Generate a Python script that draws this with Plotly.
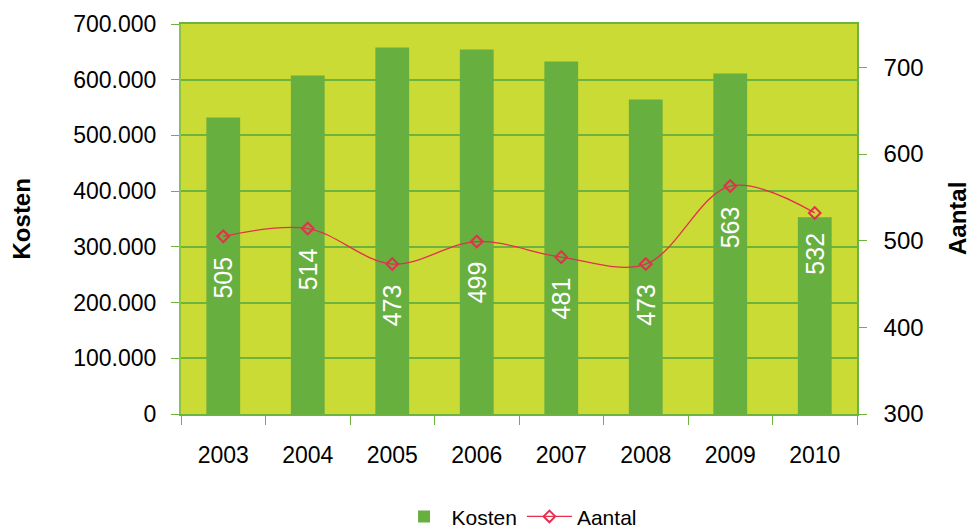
import plotly.graph_objects as go

years = ["2003", "2004", "2005", "2006", "2007", "2008", "2009", "2010"]
kosten = [532000, 607500, 657700, 654100, 632600, 564500, 611100, 353000]
aantal = [505, 514, 473, 499, 481, 473, 563, 532]
left_ticks = [0, 100000, 200000, 300000, 400000, 500000, 600000, 700000]
right_ticks = [300, 400, 500, 600, 700]

BAR = "#67AF3F"
BG = "#CBDB35"
GRID = "#6DB33F"
LINE = "#E2304D"
FONT = "Liberation Sans, Arial, sans-serif"

fig = go.Figure()
fig.add_trace(go.Bar(
    x=years, y=kosten, name="Kosten", marker=dict(color=BAR, line=dict(width=0)),
    yaxis="y", hoverinfo="skip",
))
fig.add_trace(go.Scatter(
    x=years, y=aantal, name="Aantal", yaxis="y2", mode="lines+markers",
    line=dict(color=LINE, width=1.3, shape="spline", smoothing=1),
    marker=dict(symbol="diamond-open", size=9, color=LINE, line=dict(width=2, color=LINE)),
))

for i, v in enumerate(aantal):
    fig.add_annotation(
        x=i, y=v, xref="x", yref="y2", text=str(v), showarrow=False,
        textangle=-90, yshift=-41, font=dict(color="white", size=25, family=FONT),
    )

fig.add_annotation(text="<b>Kosten</b>", xref="paper", yref="paper", x=-0.236, y=0.5,
                   xanchor="center", yanchor="middle", textangle=-90, showarrow=False,
                   font=dict(size=24, color="black", family=FONT))
fig.add_annotation(text="<b>Aantal</b>", xref="paper", yref="paper", x=1.148, y=0.5,
                   xanchor="center", yanchor="middle", textangle=-90, showarrow=False,
                   font=dict(size=24, color="black", family=FONT))

fig.update_layout(
    width=972, height=530,
    margin=dict(l=181, r=115, t=24, b=116, autoexpand=False),
    paper_bgcolor="white", plot_bgcolor=BG,
    separators=",.",
    font=dict(family=FONT, color="black", size=24),
    bargap=0.6,
    showlegend=True,
    legend=dict(orientation="h", x=0.534, xanchor="center", y=0.025, yanchor="middle",
                yref="container", xref="container",
                font=dict(size=21, family=FONT), bgcolor="rgba(0,0,0,0)",
                itemwidth=45, tracegroupgap=0),
    xaxis=dict(
        type="category", categoryorder="array", categoryarray=years,
        range=[-0.5, len(years) - 0.5], tickson="boundaries", ticks="outside", ticklen=9,
        tickcolor=GRID, showline=True, linecolor=GRID, linewidth=1.5, mirror=True,
        showgrid=False, tickangle=0, automargin=False,
        tickfont=dict(size=23, family=FONT),
        ticklabelstandoff=20,
    ),
    yaxis=dict(
        range=[0, 700000], tickvals=left_ticks, tickformat=",d",
        showgrid=True, gridcolor=GRID, gridwidth=1.5,
        ticks="outside", ticklen=8, tickcolor=GRID, automargin=False,
        showline=True, linecolor="#8BC34A", linewidth=2,
        zeroline=False, tickfont=dict(size=23), ticklabelstandoff=10,
    ),
    yaxis2=dict(
        range=[300, 750], tickvals=right_ticks, overlaying="y", side="right",
        showgrid=False, ticks="outside", ticklen=8, tickcolor=GRID, automargin=False,
        showline=True, linecolor=GRID, linewidth=1.5, zeroline=False,
        tickfont=dict(size=24), ticklabelstandoff=12,
    ),
)

fig.write_html("out.html")
